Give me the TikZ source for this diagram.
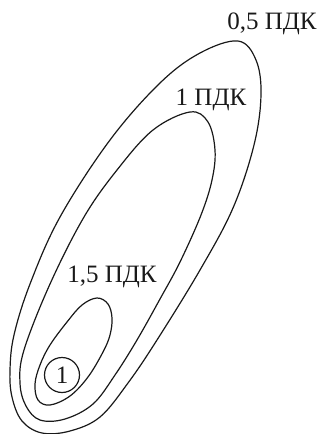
\documentclass[tikz,border=0pt]{standalone}
\usepackage{fontspec}
\setmainfont{Liberation Serif}
\begin{document}
\begin{tikzpicture}[x=1pt,y=-1pt,
  contour/.style={draw=black!90, line width=1.2pt},
  lbl/.style={font=\fontsize{25}{26}\selectfont, text=black!90, inner sep=0pt, anchor=base}]
\useasboundingbox (0,0) rectangle (320,434);
% 0,5 PDK
\draw[contour] plot[smooth cycle, tension=0.6] coordinates {
 (238,41) (256,60) (261,95) (254,145) (233,208) (200,270) (157,340) (128,383) (100,417) (70,431) (42,433) (22,421) (12,397) (10,370) (14,335) (30,284) (60,217) (110,140) (160,83) (200,53)};
% 1 PDK
\draw[contour] plot[smooth cycle, tension=0.6] coordinates {
 (190,112) (208,122) (215,150) (212,180) (201,215) (180,262) (160,299) (137,340) (115,375) (93,404) (65,419) (40,420) (26,406) (20,383) (24,350) (50,284) (84,217) (117,170) (153,130)};
% 1,5 PDK
\draw[contour] plot[smooth cycle, tension=0.6] coordinates {
 (97,298) (108,304) (112,318) (110,335) (103,352) (88,377) (70,396) (50,405) (38,400) (35,384) (40,365) (50,345) (67,322) (82,305)};
% circle 1
\node[contour, circle, minimum size=35pt, inner sep=0pt,
  font=\fontsize{25}{26}\selectfont, text=black!90] (one) at (62,375) {1};
\node[lbl] (l05) at (272,29) {0,5 ПДК};
\node[lbl] (l1) at (211,105) {1 ПДК};
\node[lbl] (l15) at (112,282) {1,5 ПДК};
\end{tikzpicture}
\end{document}
